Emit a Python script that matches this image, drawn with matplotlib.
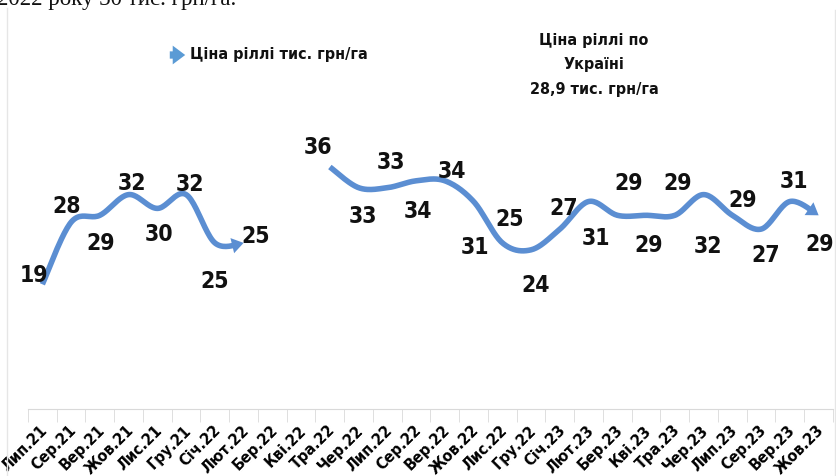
import numpy as np
import matplotlib
matplotlib.use('Agg')
import matplotlib.pyplot as plt
from matplotlib import font_manager as fm
from matplotlib.lines import Line2D
from matplotlib.transforms import ScaledTranslation

months = ['Лип.21', 'Сер.21', 'Вер.21', 'Жов.21', 'Лис.21', 'Гру.21', 'Січ.22',
          'Лют.22', 'Бер.22', 'Кві.22', 'Тра.22', 'Чер.22', 'Лип.22', 'Сер.22',
          'Вер.22', 'Жов.22', 'Лис.22', 'Гру.22', 'Січ.23', 'Лют.23', 'Бер.23',
          'Кві.23', 'Тра.23', 'Чер.23', 'Лип.23', 'Сер.23', 'Вер.23', 'Жов.23']
price = [19, 28, 29, 32, 30, 32, 25, 25, np.nan, np.nan,
         36, 33, 33, 34, 34, 31, 25, 24, 27, 31,
         29, 29, 29, 32, 29, 27, 31, 29]
series_name = 'Ціна ріллі тис. грн/га'
note = 'Ціна ріллі по\nУкраїні\n28,9 тис. грн/га'

# label offsets from the point, pixels (dx right, dy down)
label_dx = [-8, -4, 1, 3, 2, 4, 0, 12, 0, 0,
            -12, 4, 4, 2, 7, 1, 7, 5, 4, 7,
            11, 3, 3, 4, 10, 5, 4, 1]
label_dy = [-9, -16, 28, -11, 26, -10, 39, -6, 0, 0,
            -20, 29, -25, 31, -9, 46, -23, 36, -21, 37,
            -32, 30, -32, 52, -15, 26, -20, 29]

blue = '#5b8ed2'


def pick_narrow_bold():
    # look for a condensed / narrow bold sans; the chart used Calibri
    fonts = fm.fontManager.ttflist

    def is_bold(f):
        return f.weight in ('bold', 700, 'heavy', 800) or 'Bold' in f.fname

    def narrow(f):
        n = f.name + ' ' + f.fname
        return (f.stretch in ('condensed', 'semi-condensed', 'extra-condensed')
                or 'Narrow' in n or 'Condensed' in n)

    for pref in ['Liberation Sans Narrow', 'DejaVu Sans', 'Roboto', 'Open Sans', 'Noto Sans', 'Lato']:
        for f in fonts:
            if f.name.startswith(pref) and narrow(f) and is_bold(f) and 'Oblique' not in f.fname \
                    and 'Italic' not in f.fname and 'Mono' not in f.fname:
                return fm.FontProperties(fname=f.fname)
    return fm.FontProperties(family='Roboto', weight='bold')


base_font = pick_narrow_bold()


def fp(size):
    p = base_font.copy()
    p.set_size(size)
    return p


def smooth(xs, ys, n=24):
    # excel-like smoothing: catmull-rom as cubic bezier
    px = np.concatenate([[xs[0]], xs, [xs[-1]]])
    py = np.concatenate([[ys[0]], ys, [ys[-1]]])
    out_x, out_y = [], []
    t = np.linspace(0, 1, n)
    for i in range(1, len(px) - 2):
        p0 = np.array([px[i], py[i]])
        p3 = np.array([px[i + 1], py[i + 1]])
        c1 = p0 + (p3 - np.array([px[i - 1], py[i - 1]])) / 6
        c2 = p3 - (np.array([px[i + 2], py[i + 2]]) - p0) / 6
        b = ((1 - t) ** 3)[:, None] * p0 + (3 * (1 - t) ** 2 * t)[:, None] * c1 \
            + (3 * (1 - t) * t ** 2)[:, None] * c2 + (t ** 3)[:, None] * p3
        out_x.extend(b[:, 0])
        out_y.extend(b[:, 1])
    return np.array(out_x), np.array(out_y)


fig = plt.figure(figsize=(8.36, 4.76), dpi=100)
ax = fig.add_axes([28 / 836, (476 - 408.5) / 476, 805 / 836, (408.5 - 29) / 476])
ax.set_xlim(-0.5, 27.5)
ax.set_ylim(1, 56)

y = np.array(price, dtype=float)
x = np.arange(len(months))
ok = ~np.isnan(y)

# split into continuous runs
runs = []
start = None
for i in range(len(y)):
    if ok[i] and start is None:
        start = i
    if (not ok[i] or i == len(y) - 1) and start is not None:
        end = i if ok[i] else i - 1
        runs.append((start, end))
        start = None

for s, e in runs:
    sx, sy = smooth(x[s:e + 1].astype(float), y[s:e + 1])
    keep = sx <= x[e] - 0.25
    ax.plot(sx[keep], sy[keep], color=blue, lw=4, solid_capstyle='butt', zorder=3)
    back = np.argmin(np.abs(sx - (x[e] - 0.4)))
    ax.annotate('', xy=(x[e], y[e]), xytext=(sx[back], sy[back]),
                arrowprops=dict(arrowstyle='-|>,head_length=0.6,head_width=0.4',
                                mutation_scale=14, lw=0, fc=blue, ec='none',
                                shrinkA=0, shrinkB=0), zorder=4)

for i in range(len(y)):
    if not ok[i]:
        continue
    ax.annotate(str(int(y[i])), (x[i], y[i]), xytext=(label_dx[i], -label_dy[i]),
                textcoords='offset pixels', ha='center', va='center',
                fontproperties=fp(16.5), color='#111111')

for side in ['top', 'left', 'right']:
    ax.spines[side].set_visible(False)
ax.spines['bottom'].set_color('#d9d9d9')
ax.set_yticks([])
ax.set_xticks(x)
ax.set_xticklabels(months, rotation=45, rotation_mode='anchor', ha='right', va='center',
                   fontproperties=fp(11.5))
ax.set_xticks(np.arange(-0.5, 28, 1), minor=True)
ax.tick_params(axis='x', which='major', length=0, pad=14)
ax.tick_params(axis='x', which='minor', length=9, color='#d9d9d9')
shift = ScaledTranslation(3 / 100, 0, fig.dpi_scale_trans)
for lab in ax.get_xticklabels():
    lab.set_transform(lab.get_transform() + shift)

# legend
ax.annotate('', xy=(188, 476 - 55), xytext=(167, 476 - 55),
            xycoords='figure pixels', textcoords='figure pixels',
            arrowprops=dict(arrowstyle='simple,head_length=0.6,head_width=0.9,tail_width=0.35',
                            mutation_scale=15, fc='#5b9bd5', ec='none'))
fig.text(190 / 836, 1 - 55 / 476, series_name, ha='left', va='center',
         fontproperties=fp(11.5), color='#111111')

fig.text(594 / 836, 1 - 65 / 476, note, ha='center', va='center', linespacing=1.8,
         fontproperties=fp(11.5), color='#111111')

# chart border and clipped page text above
fig.add_artist(Line2D([7 / 836, 7 / 836], [0, 1 - 8 / 476], color='#e6e6e6', lw=1))
fig.add_artist(Line2D([835 / 836, 835 / 836], [0, 1 - 10 / 476], color='#e6e6e6', lw=1))
fig.text(-3 / 836, 1 - 5 / 476, '2022 року 30 тис. грн/га.', ha='left', va='baseline',
         fontsize=16.5, family='Liberation Serif', color='#111111')

fig.savefig('out.png', dpi=100, facecolor='white')
